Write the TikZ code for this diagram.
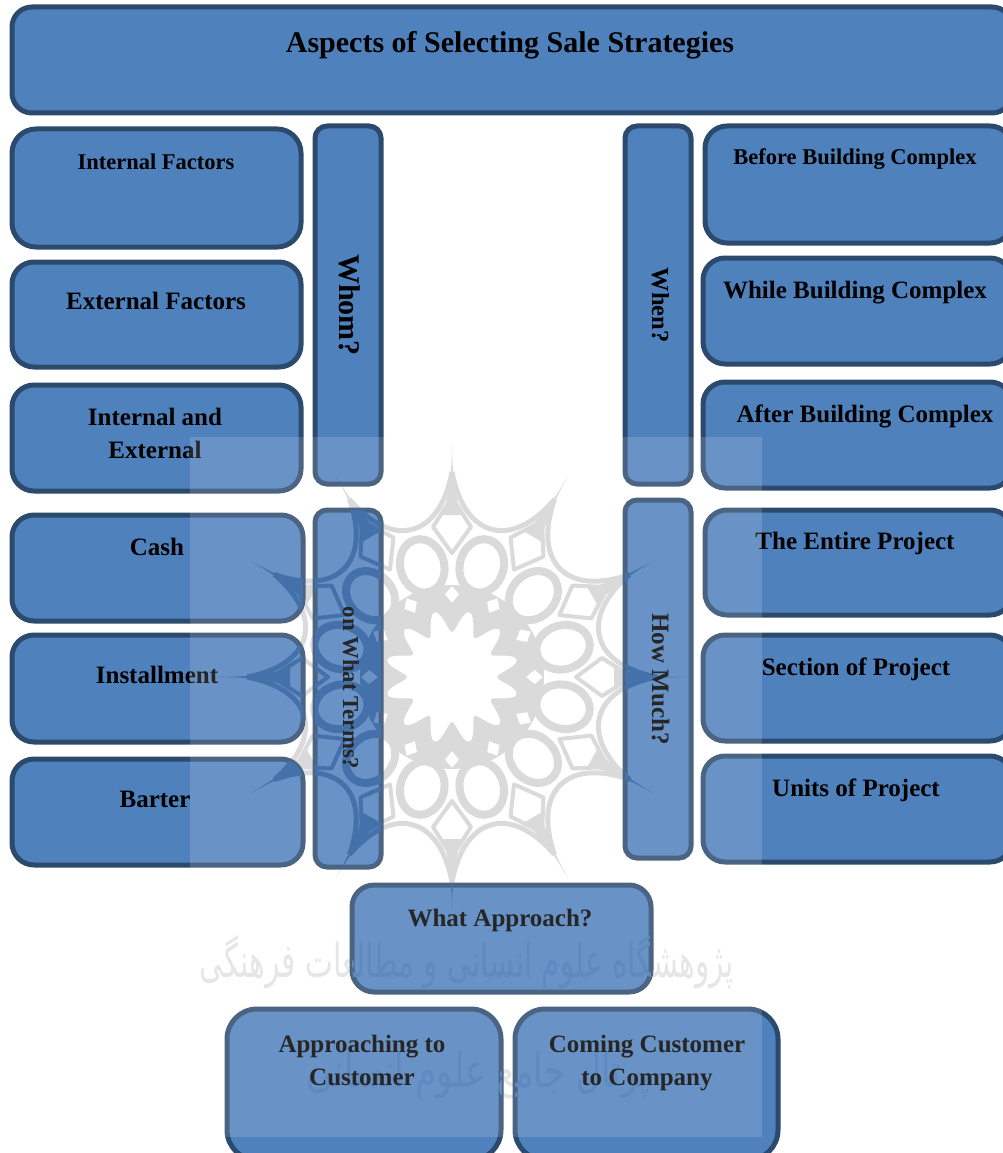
\documentclass[tikz,border=0pt]{standalone}
\usepackage{fontspec}
\setmainfont{Liberation Serif}
\newfontfamily\arabicfont[Script=Arabic]{DejaVu Sans}
\TeXXeTstate=1
\definecolor{boxfill}{HTML}{4F81BD}
\definecolor{boxline}{HTML}{2C4A6E}
\definecolor{rosegrey}{HTML}{D4D4D4}
\definecolor{roseblue}{HTML}{24599B}
\definecolor{wordgrey}{HTML}{E2E2E2}
\definecolor{wordblue}{HTML}{4276B4}
\tikzset{
  boxnode/.style={draw=boxline,fill=boxfill,line width=5pt,inner sep=0pt,outer sep=0pt},
  lab/.style={font=\bfseries,inner sep=0pt,anchor=base,align=center},
  wm/.style={inner sep=0pt,anchor=center}
}
% name, x1, y1, x2, y2, radius
\newcommand\allboxes[1]{%
  #1{ttl}{12}{7}{1012}{113}{20}%
  #1{inf}{12}{129}{301}{247}{24}%
  #1{exf}{12}{262}{301}{367}{22}%
  #1{iex}{12}{385}{301}{491}{22}%
  #1{csh}{12}{515}{303}{621}{22}%
  #1{ins}{12}{635}{303}{742}{22}%
  #1{bar}{12}{759}{303}{865}{22}%
  #1{whm}{315}{126}{381}{484}{12}%
  #1{trm}{315}{510}{381}{867}{12}%
  #1{whn}{625}{126}{691}{484}{12}%
  #1{hwm}{625}{500}{691}{858}{12}%
  #1{bef}{705}{126}{1012}{243}{22}%
  #1{whl}{703}{258}{1012}{364}{22}%
  #1{aft}{703}{382}{1012}{488}{22}%
  #1{ent}{705}{510}{1012}{615}{22}%
  #1{sec}{703}{635}{1012}{741}{22}%
  #1{unt}{703}{756}{1012}{862}{22}%
  #1{apr}{352}{885}{651}{992}{22}%
  #1{atc}{227}{1009}{501}{1160}{30}%
  #1{cct}{515}{1009}{778}{1160}{30}%
}
\newcommand\drawbx[6]{%
  \pgfmathsetmacro\bw{#4-#2}\pgfmathsetmacro\bh{#5-#3}%
  \node[boxnode,rounded corners=#6pt,minimum width=\bw pt,minimum height=\bh pt]
    (#1) at ({(#2+#4)/2},{-(#3+#5)/2}) {};}
\newcommand\cliprect[6]{[rounded corners=#6pt] (#2,-#3) rectangle (#4,-#5)}
\newcommand\rosette[1]{%
  \begin{scope}[shift={(452,-677)}]
    \fill[#1,even odd rule] (0,0) circle (92)
      plot[domain=0:360,samples=145] (\x:{56+11*cos(12*\x+180)}) -- cycle
      \foreach \a in {0,30,...,330} {
        (\a:74) -- ({\a+5}:83) -- (\a:91) -- ({\a-5}:83) -- cycle
      };
    \foreach \a in {0,30,...,330} {
      \begin{scope}[rotate=\a]
        \fill[#1] (232,0) .. controls (205,0.5) and (190,1.5) .. (162,9)
          -- (162,-9) .. controls (190,-1.5) and (205,-0.5) .. (232,0) -- cycle;
        \draw[#1,line width=5pt] (205,0) .. controls (5:140) and (25:140) .. (30:205);
        \draw[#1,line width=4pt,line join=round] (180,0) -- (150,19) -- (124,0) -- (150,-19) -- cycle;
        \draw[#1,line width=8pt,rotate=15] (115,0) ellipse [x radius=27,y radius=22];
      \end{scope}
    }
  \end{scope}}
\newcommand\persian[1]{%
  \node[wm,text=#1,font=\arabicfont\fontsize{47}{50}\selectfont,xscale=.63] (wmA) at (467,-962)
    {\beginR پژوهشگاه علوم انسانی و مطالعات فرهنگی\endR};}
\newcommand\persianb[1]{%
  \node[wm,text=#1,font=\arabicfont\fontsize{47}{50}\selectfont,xscale=.73] (wmB) at (478,-1075)
    {\beginR پرتال جامع علوم انسانی\endR};}
\begin{document}
\begin{tikzpicture}[x=1pt,y=1pt]
\useasboundingbox (0,0) rectangle (1003,-1153);
\clip (0,0) rectangle (1003,-1153);
% watermark on the white paper
\rosette{rosegrey}
\persian{wordgrey}
\persianb{wordgrey}
% boxes
\allboxes{\drawbx}
% watermark over the boxes
\begin{scope}
  \path[clip] \allboxes{\cliprect};
  \rosette{roseblue}
  \persian{wordblue}
  \persianb{wordblue}
\end{scope}
% texts
\node[lab,font=\bfseries\fontsize{30}{33}\selectfont] (tTtl) at (510,-53) {Aspects of Selecting Sale Strategies};
\node[lab,font=\bfseries\fontsize{22.5}{25}\selectfont] (tInf) at (156,-169) {Internal Factors};
\node[lab,font=\bfseries\fontsize{25}{33}\selectfont] (tExf) at (156,-309) {External Factors};
\node[lab,font=\bfseries\fontsize{25}{33}\selectfont] (tIex) at (155,-458) {Internal and\\External};
\node[lab,font=\bfseries\fontsize{25}{33}\selectfont] (tCsh) at (157,-555) {Cash};
\node[lab,font=\bfseries\fontsize{25}{33}\selectfont] (tIns) at (157,-683) {Installment};
\node[lab,font=\bfseries\fontsize{25}{33}\selectfont] (tBar) at (155,-807) {Barter};
\node[lab,font=\bfseries\fontsize{30}{33}\selectfont,rotate=-90] (tWhm) at (339,-305) {Whom?};
\node[lab,font=\bfseries\fontsize{24.5}{33}\selectfont,rotate=-90] (tWhn) at (652,-305) {When?};
\node[lab,font=\bfseries\fontsize{22.8}{33}\selectfont,rotate=-90] (tTrm) at (343,-688) {on What Terms?};
\node[lab,font=\bfseries\fontsize{25}{33}\selectfont,rotate=-90] (tHwm) at (652,-679) {How Much?};
\node[lab,font=\bfseries\fontsize{22.5}{25}\selectfont] (tBef) at (855,-164) {Before Building Complex};
\node[lab,font=\bfseries\fontsize{25}{33}\selectfont] (tWhl) at (855,-298) {While Building Complex};
\node[lab,font=\bfseries\fontsize{25}{33}\selectfont] (tAft) at (865,-422) {After Building Complex};
\node[lab,font=\bfseries\fontsize{25}{33}\selectfont] (tEnt) at (855,-549) {The Entire Project};
\node[lab,font=\bfseries\fontsize{25}{33}\selectfont] (tSec) at (856,-675) {Section of Project};
\node[lab,font=\bfseries\fontsize{25}{33}\selectfont] (tUnt) at (856,-796) {Units of Project};
\node[lab,font=\bfseries\fontsize{25}{33}\selectfont] (tApr) at (500,-926) {What Approach?};
\node[lab,font=\bfseries\fontsize{25}{33}\selectfont] (tAtc) at (362,-1085) {Approaching to\\Customer};
\node[lab,font=\bfseries\fontsize{25}{33}\selectfont] (tCct) at (647,-1085) {Coming Customer\\to Company};
% translucent wash of the watermark image
\fill[white,opacity=0.15] (190,-437) rectangle (762,-1137);
\end{tikzpicture}
\end{document}
